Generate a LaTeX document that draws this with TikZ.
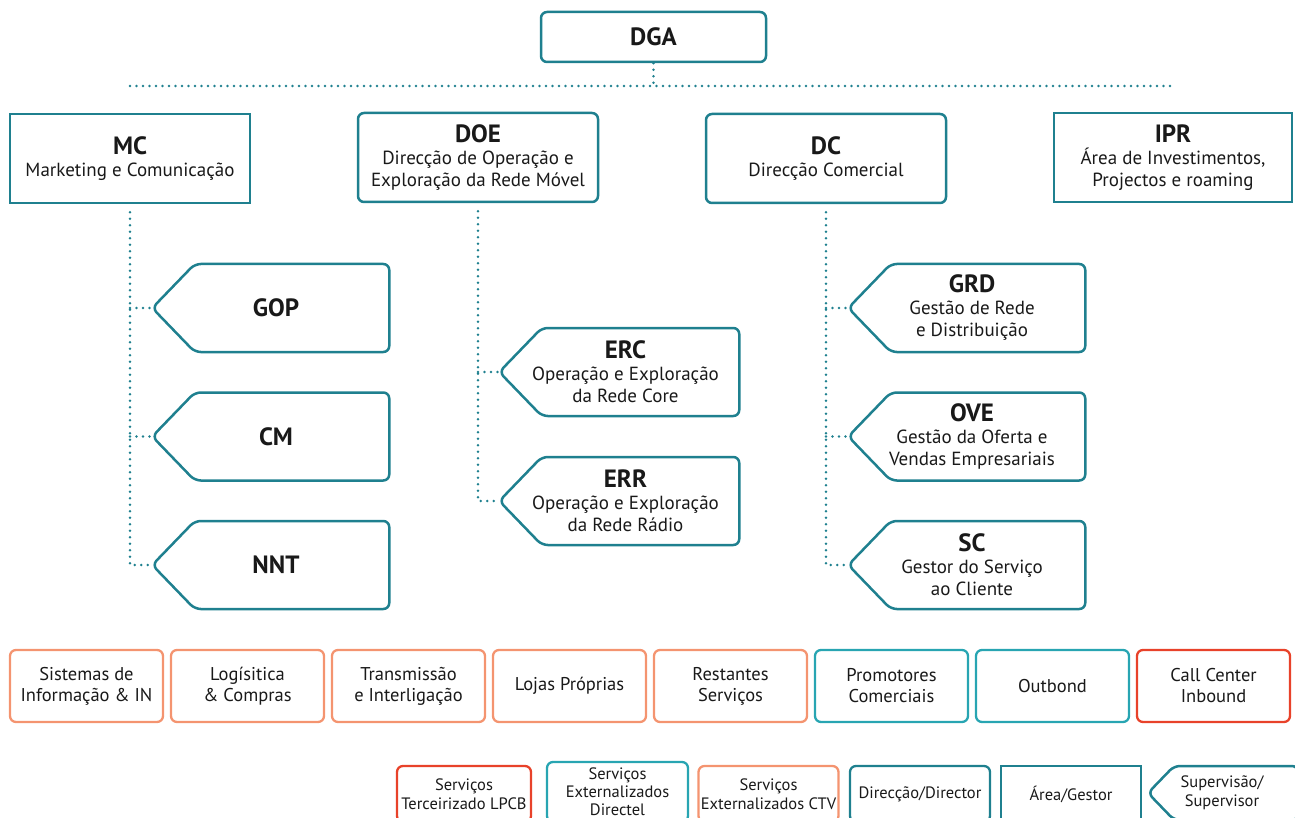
\documentclass[tikz,border=0pt]{standalone}
\usepackage{fontspec}
\setmainfont{PT Sans}
\usetikzlibrary{positioning,shapes.symbols}
\definecolor{dirteal}{RGB}{31,128,143}
\definecolor{extteal}{RGB}{40,165,178}
\definecolor{ctvsalmon}{RGB}{244,148,112}
\definecolor{lpcbred}{RGB}{232,66,42}
\definecolor{inkgrey}{RGB}{25,25,25}
\newcommand{\orgtitle}[1]{{\fontsize{25}{26}\selectfont\bfseries #1}}

\begin{document}
\begin{tikzpicture}[x=1pt, y=-1pt,
    dirbox/.style={draw=dirteal, line width=2.5pt, rounded corners=6pt, minimum width=240pt, minimum height=89pt, align=center, text=inkgrey, inner sep=0pt, font=\fontsize{19}{22}\selectfont},
    areabox/.style={dirbox, sharp corners},
    supbox/.style={signal, signal to=west, signal pointer angle=92, draw=dirteal, line width=2.5pt, rounded corners=6pt, minimum width=237pt, minimum height=88pt, inner sep=0pt},
    suptext/.style={align=center, text=inkgrey, inner sep=0pt, font=\fontsize{19}{22}\selectfont},
    unitbox/.style={draw=#1, line width=2.3pt, rounded corners=6pt, minimum width=153pt, minimum height=72pt, align=center, text=inkgrey, inner sep=0pt, font=\fontsize{18.5}{21}\selectfont},
    keybox/.style={draw=#1, line width=2.3pt, rounded corners=6pt, minimum width=140pt, minimum height=56pt, align=center, text=inkgrey, inner sep=0pt, font=\fontsize{16.5}{19.5}\selectfont},
    dotline/.style={dirteal, line width=2.6pt, line cap=round, dash pattern=on 0pt off 6.5pt}
]
\useasboundingbox (0,0) rectangle (1295,818);
\clip (0,0) rectangle (1295,818);

% top level
\node[dirbox, minimum width=225pt, minimum height=50pt] (dga) at (653.5,37) {\orgtitle{DGA}};
\coordinate (busL) at (130,86);
\coordinate (busR) at (1175,86);
\draw[dotline] (dga.south) -- (dga.south |- busL);
\draw[dotline] (busL) -- (busR);

% directions
\node[areabox] (mc) at (130,158.5) {\orgtitle{MC}\\Marketing e Comunicação};
\node[dirbox] (doe) at (478,157.5) {\orgtitle{DOE}\\Direcção de Operação e\\Exploração da Rede Móvel};
\node[dirbox] (dc) at (826,158.5) {\orgtitle{DC}\\Direcção Comercial};
\node[areabox, minimum width=238pt] (ipr) at (1173,157.5) {\orgtitle{IPR}\\Área de Investimentos,\\Projectos e roaming};

% MC branch
\node[supbox] (gop) at (292,308) {};
\node[supbox, below=38pt of gop] (cm) {};
\node[supbox, below=38pt of cm] (nnt) {};
\node[suptext] (goptxt) at ([xshift=-16pt]gop.center) {\orgtitle{GOP}};
\node[suptext] (cmtxt) at ([xshift=-16pt]cm.center) {\orgtitle{CM}};
\node[suptext] (nnttxt) at ([xshift=-16pt]nnt.center) {\orgtitle{NNT}};
\draw[dotline] ([yshift=-8pt]mc.south) |- (nnt.west);
\draw[dotline] (mc.south |- gop.west) -- (gop.west);
\draw[dotline] (mc.south |- cm.west) -- (cm.west);

% DOE branch
\node[supbox, minimum width=240pt] (erc) at (640.5,372) {};
\node[supbox, minimum width=240pt, below=38.5pt of erc] (err) {};
\node[suptext] (erctxt) at ([xshift=-15pt]erc.center) {\orgtitle{ERC}\\Operação e Exploração\\da Rede Core};
\node[suptext] (errtxt) at ([xshift=-15pt]err.center) {\orgtitle{ERR}\\Operação e Exploração\\da Rede Rádio};
\draw[dotline] ([yshift=-8pt]doe.south) |- (err.west);
\draw[dotline] (doe.south |- erc.west) -- (erc.west);

% DC branch
\node[supbox] (grd) at (988,308) {};
\node[supbox, below=38pt of grd] (ove) {};
\node[supbox, below=38pt of ove] (sc) {};
\node[suptext] (grdtxt) at ([xshift=-16pt]grd.center) {\orgtitle{GRD}\\Gestão de Rede\\e Distribuição};
\node[suptext] (ovetxt) at ([xshift=-16pt]ove.center) {\orgtitle{OVE}\\Gestão da Oferta e\\Vendas Empresariais};
\node[suptext] (sctxt) at ([xshift=-16pt]sc.center) {\orgtitle{SC}\\Gestor do Serviço\\ao Cliente};
\draw[dotline] ([yshift=-8pt]dc.south) |- (sc.west);
\draw[dotline] (dc.south |- grd.west) -- (grd.west);
\draw[dotline] (dc.south |- ove.west) -- (ove.west);

% units
\node[unitbox=ctvsalmon] (sin) at (86.5,686) {Sistemas de\\Informação \& IN};
\node[unitbox=ctvsalmon, right=5.7pt of sin] (log) {Logísitica\\\& Compras};
\node[unitbox=ctvsalmon, right=5.7pt of log] (tri) {Transmissão\\e Interligação};
\node[unitbox=ctvsalmon, right=5.7pt of tri] (ljp) {Lojas Próprias};
\node[unitbox=ctvsalmon, right=5.7pt of ljp] (rsv) {Restantes\\Serviços};
\node[unitbox=extteal, right=5.7pt of rsv] (pcm) {Promotores\\Comerciais};
\node[unitbox=extteal, right=5.7pt of pcm] (otb) {Outbond};
\node[unitbox=lpcbred, right=5.7pt of otb] (cci) {Call Center\\Inbound};

% legend
\node[keybox=lpcbred, minimum width=134pt] (klpcb) at (464,794) {Serviços\\Terceirizado LPCB};
\node[keybox=extteal, minimum width=141pt, minimum height=60pt, font=\fontsize{16.5}{18}\selectfont] (kdir) at (617.5,792) {Serviços\\Externalizados\\Directel};
\node[keybox=ctvsalmon] (kctv) at (768.5,794) {Serviços\\Externalizados CTV};
\node[keybox=dirteal] (kdirector) at (920,794) {Direcção/Director};
\node[keybox=dirteal, sharp corners] (kgestor) at (1071,794) {Área/Gestor};
\node[supbox, minimum width=150pt, minimum height=54pt] (ksup) at (1236,793) {};
\node[suptext, font=\fontsize{16.5}{19.5}\selectfont] (ksuptxt) at ([xshift=-14pt]ksup.center) {Supervisão/\\Supervisor};
\end{tikzpicture}
\end{document}
